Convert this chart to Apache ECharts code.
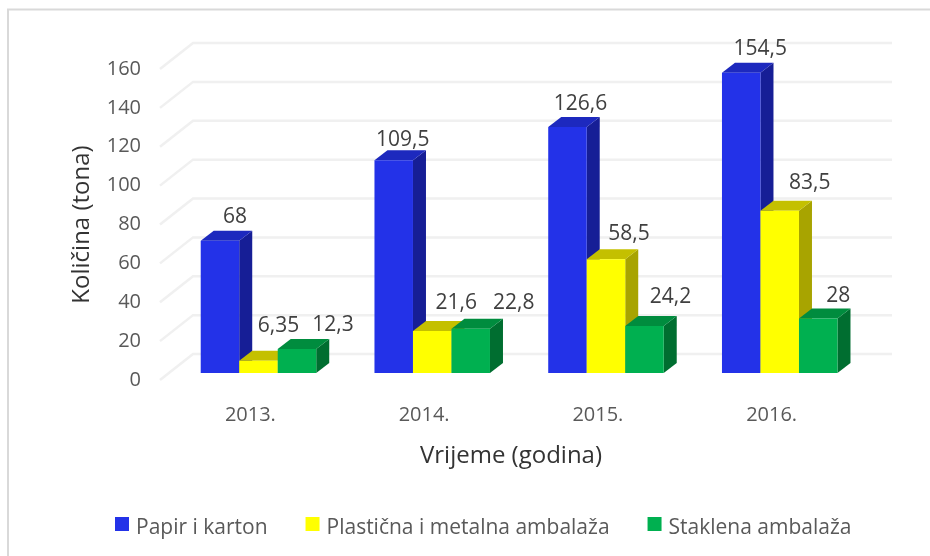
<!DOCTYPE html>
<html>
<head>
<meta charset="utf-8">
<title>Količina ambalaže</title>
<script src="https://cdn.jsdelivr.net/npm/echarts@6/dist/echarts.min.js"></script>
<style>
html,body{margin:0;padding:0;background:#fff;}
#main{width:930px;height:556px;}
</style>
</head>
<body>
<div id="main"></div>
<script>
// podaci
var years = ['2013.', '2014.', '2015.', '2016.'];
var papir = [68, 109.5, 126.6, 154.5];
var plastika = [6.35, 21.6, 58.5, 83.5];
var staklo = [12.3, 22.8, 24.2, 28];
var papirText = ['68', '109,5', '126,6', '154,5'];
var plastikaText = ['6,35', '21,6', '58,5', '83,5'];
var stakloText = ['12,3', '22,8', '24,2', '28'];
var yTicks = [0, 20, 40, 60, 80, 100, 120, 140, 160];

// pomaci natpisa [dx, dy] od sredine gornjeg ruba stupca
var papirNudge = [[15, -24], [9, -20], [13, -23], [19, -24]];
var plastikaNudge = [[20, -35], [24, -28], [23, -25], [30, -28]];
var stakloNudge = [[36, -24], [43, -25.5], [26, -29], [20, -23]];

var font = '"Open Sans", sans-serif';
var wallX = 33, wallY = 26;   // dubina "poda"
var wallExtra = 4;
var shiftX = 11.6, shiftY = 7; // prednja ploha stupaca
var sideX = 13, sideY = 10;    // dubina stupca
var barRatio = 0.2216;

var chart = echarts.init(document.getElementById('main'));

// mreza: kosa crta + vodoravna crta na strazi
function renderGrid(params, api) {
	var y = api.coord([0, api.value(0)])[1];
	var cs = params.coordSys;
	return {
		type: 'polyline',
		silent: true,
		shape: {points: [[cs.x, y], [cs.x + wallX, y - wallY], [cs.x + cs.width + wallX + wallExtra, y - wallY]]},
		style: {fill: null, stroke: '#f0f0f0', lineWidth: 2.5}
	};
}

function barRenderer(slot, front, top, side, texts, nudges) {
	return function (params, api) {
		var i = api.value(0);
		var base = api.coord([i, 0]);
		var head = api.coord([i, api.value(1)]);
		var w = api.size([1, 0])[0] * barRatio;
		var x = base[0] + shiftX + (slot - 1.5) * w;
		var y0 = base[1] - shiftY;
		var y1 = head[1] - shiftY;
		return {
			type: 'group',
			children: [
				{type: 'polygon', shape: {points: [[x + w, y0], [x + w + sideX, y0 - sideY], [x + w + sideX, y1 - sideY], [x + w, y1]]}, style: {fill: side}},
				{type: 'polygon', shape: {points: [[x, y1], [x + sideX, y1 - sideY], [x + w + sideX, y1 - sideY], [x + w, y1]]}, style: {fill: top}},
				{type: 'rect', shape: {x: x, y: y1, width: w, height: y0 - y1}, style: {fill: front}},
				{type: 'text', z2: 50, style: {
					x: x + w / 2 + nudges[i][0],
					y: y1 + nudges[i][1],
					text: texts[i],
					align: 'center',
					verticalAlign: 'middle',
					fill: '#404040',
					font: '21px ' + font
				}}
			]
		};
	};
}

function barSeries(name, values, slot, front, top, side, texts, nudges) {
	return {
		name: name,
		type: 'custom',
		z: 3 + slot,
		itemStyle: {color: front},
		renderItem: barRenderer(slot, front, top, side, texts, nudges),
		encode: {x: 0, y: 1},
		data: values.map(function (v, i) { return [i, v]; })
	};
}

var option = {
	animation: false,
	backgroundColor: '#fff',
	textStyle: {fontFamily: font},
	graphic: [
		{type: 'polyline', silent: true, shape: {points: [[8, 556], [8, 9.5], [930, 9.5]]}, style: {fill: null, stroke: '#d9d9d9', lineWidth: 2}}
	],
	legend: {
		data: ['Papir i karton', 'Plastična i metalna ambalaža', 'Staklena ambalaža'],
		left: 110,
		top: 512,
		itemWidth: 14,
		itemHeight: 14,
		itemGap: 38,
		icon: 'rect',
		formatter: '{t|{name}}',
		textStyle: {
			color: '#595959',
			fontSize: 21,
			fontFamily: font,
			padding: [0, 0, 0, 2],
			rich: {t: {color: '#595959', fontSize: 21, fontFamily: font, padding: [8, 0, 0, 0]}}
		}
	},
	grid: {left: 160, top: 69, width: 695, height: 311, containLabel: false},
	xAxis: {
		type: 'category',
		data: years,
		name: 'Vrijeme (godina)',
		nameLocation: 'middle',
		nameGap: 64,
		nameTextStyle: {color: '#333333', fontSize: 24, fontFamily: font, padding: [0, 0, 0, 7]},
		axisLine: {show: false},
		axisTick: {show: false},
		splitLine: {show: false},
		axisLabel: {color: '#595959', fontSize: 20, fontFamily: font, margin: 25, padding: [0, 0, 0, 7]}
	},
	yAxis: {
		type: 'value',
		min: 0,
		max: 160,
		interval: 20,
		name: 'Količina (tona)',
		nameLocation: 'middle',
		nameGap: 66,
		nameTextStyle: {color: '#333333', fontSize: 24, fontFamily: font},
		axisLine: {show: false},
		axisTick: {show: false},
		splitLine: {show: false},
		axisLabel: {color: '#595959', fontSize: 20, fontFamily: font, margin: 19, padding: [0, 0, 2, 0]}
	},
	series: [
		{
			name: 'mreza',
			type: 'custom',
			z: 1,
			silent: true,
			renderItem: renderGrid,
			encode: {y: 0},
			data: yTicks.map(function (t) { return [t]; })
		},
		barSeries('Papir i karton', papir, 0, '#2332E8', '#1D29BE', '#161E96', papirText, papirNudge),
		barSeries('Plastična i metalna ambalaža', plastika, 1, '#FFFF00', '#C4C000', '#A8A400', plastikaText, plastikaNudge),
		barSeries('Staklena ambalaža', staklo, 2, '#00B050', '#008C3E', '#006E30', stakloText, stakloNudge)
	]
};

chart.setOption(option);
</script>
</body>
</html>
